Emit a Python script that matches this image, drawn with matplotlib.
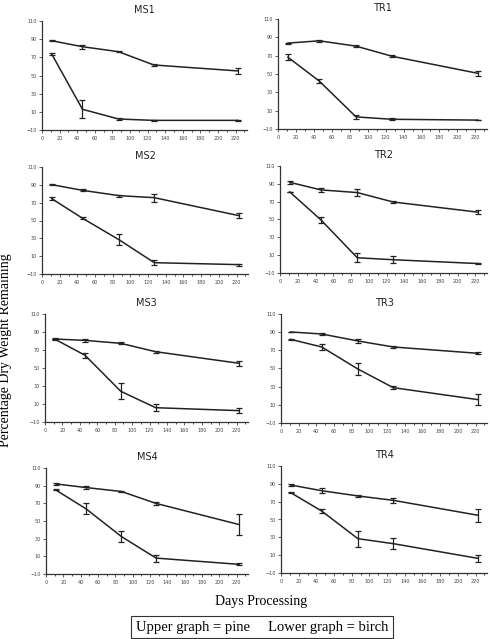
import numpy as np
import matplotlib
matplotlib.use("Agg")
import matplotlib.pyplot as plt
from matplotlib.ticker import MultipleLocator

# Days of processing (sampling points)
days = [11, 46, 87, 127, 223]

titles = ["MS1", "TR1", "MS2", "TR2", "MS3", "TR3", "MS4", "TR4"]

# Upper graph = pine, lower graph = birch (mean, error)
pine = {
    "MS1": [88.3, 81.7, 76.2, 61.6, 55.0],
    "TR1": [83.7, 86.2, 80.4, 69.4, 50.7],
    "MS2": [90.2, 83.8, 77.9, 75.6, 55.4],
    "TR2": [91.7, 83.2, 80.2, 69.7, 58.2],
    "MS3": [82.2, 80.7, 77.4, 68.1, 55.2],
    "TR3": [90.2, 88.0, 80.3, 73.7, 66.7],
    "MS4": [92.0, 87.9, 83.4, 69.9, 45.9],
    "TR4": [88.7, 82.3, 76.4, 71.5, 54.7],
}
pine_err = {
    "MS1": [0.5, 2.4, 0.8, 1.5, 3.0],
    "TR1": [0.5, 1.0, 0.8, 1.0, 2.5],
    "MS2": [0.5, 1.0, 1.0, 4.5, 3.0],
    "TR2": [1.5, 2.0, 4.0, 1.5, 2.5],
    "MS3": [0.7, 2.0, 1.2, 1.0, 3.0],
    "TR3": [0.5, 1.5, 2.0, 0.7, 1.0],
    "MS4": [1.0, 1.5, 1.0, 1.5, 12.0],
    "TR4": [1.0, 3.0, 1.0, 3.0, 7.0],
}
birch = {
    "MS1": [73.7, 12.8, 2.1, 0.6, 0.6],
    "TR1": [68.3, 42.3, 3.2, 0.6, -0.3],
    "MS2": [74.5, 52.4, 28.5, 2.7, 0.5],
    "TR2": [80.9, 49.6, 7.1, 4.9, 0.6],
    "MS3": [82.2, 64.1, 24.1, 5.9, 2.6],
    "TR3": [82.1, 73.7, 49.4, 28.9, 15.7],
    "MS4": [85.3, 63.9, 32.4, 8.0, 0.9],
    "TR4": [80.1, 59.5, 28.5, 22.9, 6.4],
}
birch_err = {
    "MS1": [1.5, 10.0, 1.5, 0.4, 0.4],
    "TR1": [3.5, 2.0, 2.5, 1.0, 0.4],
    "MS2": [1.5, 1.0, 6.0, 3.0, 1.0],
    "TR2": [0.5, 3.0, 5.0, 4.0, 1.0],
    "MS3": [0.5, 3.0, 9.0, 4.0, 2.5],
    "TR3": [0.4, 3.0, 7.0, 2.0, 6.0],
    "MS4": [0.7, 6.0, 6.0, 4.0, 1.0],
    "TR4": [0.7, 2.5, 9.0, 6.0, 4.0],
}

W, H = 490, 639
# axes boxes in pixels: left, right, top, bottom
boxes = {
    "MS1": (42, 247, 21, 130),
    "TR1": (278, 487, 19, 129),
    "MS2": (42, 248, 167, 274),
    "TR2": (280, 487, 166, 273),
    "MS3": (45, 248, 314, 422),
    "TR3": (281, 487, 314, 423),
    "MS4": (46, 248, 468, 574),
    "TR4": (281, 487, 466, 573),
}

fig = plt.figure(figsize=(W / 100, H / 100), dpi=100)

for name in titles:
    l, r, t, b = boxes[name]
    ax = fig.add_axes([l / W, 1 - b / H, (r - l) / W, (b - t) / H])
    for vals, errs in ((pine[name], pine_err[name]), (birch[name], birch_err[name])):
        ax.errorbar(days, vals, yerr=errs, color="#222222", lw=1.1,
                    elinewidth=0.9, capsize=2.5, capthick=0.9)
    ax.set_xlim(0, 233)
    ax.set_ylim(-10, 110)
    ax.set_yticks([-10, 10, 30, 50, 70, 90, 110])
    ax.set_xticks(range(0, 221, 20))
    ax.xaxis.set_minor_locator(MultipleLocator(10))
    ax.tick_params(labelsize=3.5, length=2, width=0.6, pad=2, colors="#444444")
    ax.tick_params(which="minor", length=1.5, width=0.5)
    for s in ("top", "right"):
        ax.spines[s].set_visible(False)
    for s in ("left", "bottom"):
        ax.spines[s].set_linewidth(0.9)
        ax.spines[s].set_color("#333333")
    ax.set_title(name, fontsize=7, pad=6, color="#222222")

fig.text(6 / W, 1 - 350 / H, "Percentage Dry Weight Remaining", rotation=90,
         family="Liberation Serif", fontsize=10, ha="center", va="center")
fig.text(261 / W, 1 - 601 / H, "Days Processing", family="Liberation Serif",
         fontsize=10, ha="center", va="center")
fig.text(262 / W, 1 - 627 / H, "Upper graph = pine     Lower graph = birch",
         family="Liberation Serif", fontsize=10.5, ha="center", va="center",
         bbox=dict(boxstyle="square,pad=0.3", fc="white", ec="#333333", lw=0.8))

fig.savefig("out.png", dpi=100)
